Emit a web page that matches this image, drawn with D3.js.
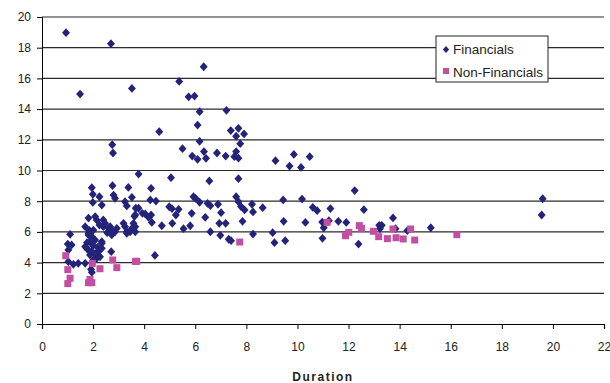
<!DOCTYPE html>
<html>
<head>
<meta charset="utf-8">
<script src="https://cdn.jsdelivr.net/npm/d3@7"></script>
<style>
  body { margin: 0; background: #fff; }
  svg { font-family: "Liberation Sans", Arial, sans-serif; }
</style>
</head>
<body>
<svg id="chart" width="610" height="383"></svg>
<script>
// duration, yield pairs
let financials = [
  [0.94,18.98],[2.7,18.26],[1.49,14.98],[3.52,15.35],[5.37,15.8],[5.74,14.8],[6.33,16.76],[5.97,14.85],
  [6.17,13.83],[7.22,13.92],[4.59,12.53],[6.09,12.96],[7.39,12.6],[7.69,12.75],[7.6,12.23],[7.91,12.38],
  [7.76,11.75],[6.17,11.9],[5.5,11.42],[5.88,10.94],[6.09,10.73],[6.34,11.23],[6.42,10.79],[6.85,11.14],
  [7.19,10.94],[7.6,11.23],[7.53,10.9],[7.69,10.8],[9.14,10.64],[9.86,11.05],[9.69,10.29],[10.14,10.2],
  [10.48,10.9],[2.75,11.68],[2.78,11.14],[3.78,9.77],[5.05,9.53],[6.55,9.32],[7.69,9.47],
  [4.27,8.84],[4.24,8.08],[4.46,8.01],[5.93,8.29],[6.01,8.19],[6.17,7.93],[6.48,7.86],[6.59,7.71],
  [6.89,7.8],[7.6,8.29],[7.69,7.97],[7.79,7.65],[7.93,7.43],[8.22,7.8],[8.26,7.3],[8.64,7.58],
  [9.44,8.08],[10.18,8.14],[4.98,7.64],[5.09,7.51],[5.35,7.47],[5.24,7.1],[4.27,7.1],[4.3,6.62],
  [4.69,6.4],[5.1,6.56],[5.54,6.21],[5.8,6.4],[5.86,7.21],[6.39,6.95],[7.01,7.25],[6.94,6.56],
  [7.19,6.56],[7.85,6.69],[9.46,6.69],[10.31,6.62],[6.59,6.01],[6.98,5.78],[7.31,5.52],[7.4,5.43],
  [8.26,5.86],[9.03,5.95],[9.1,5.3],[9.52,5.43],[4.42,4.47],
  [12.24,8.69],[10.6,7.6],[10.77,7.38],[11.29,7.52],[12.6,7.45],[10.97,6.64],[11.23,6.73],[11.6,6.69],
  [11.91,6.62],[11.03,6.27],[13.74,6.91],[13.2,6.43],[13.3,6.43],[13.23,6.21],[13.84,6.21],[14.3,6.08],
  [15.22,6.27],[10.98,5.58],[12.39,5.21],[19.6,8.16],[19.56,7.1],
  [1.95,8.88],[2.76,9.01],[3.38,8.9],[1.99,8.45],[2.25,8.29],[2.8,8.4],[2.86,8.19],[3.52,8.25],
  [1.99,7.92],[2.34,7.75],[3.25,7.97],[3.32,7.69],[3.67,7.54],[3.65,7.1],[3.93,7.21],[3.78,7.54],
  [3.62,7.02],[4.04,7.17],[4.17,6.95],
  [1.82,6.9],[2.08,7.0],[2.14,6.78],[2.4,6.78],[2.47,6.56],[2.67,6.34],[2.93,6.23],[3.19,6.56],
  [3.32,6.01],[3.58,6.56],[3.65,6.34],[1.69,6.34],[1.82,5.91],[1.95,5.69],[2.01,6.12],[2.4,6.34],
  [2.6,6.23],[2.73,6.12],[3.25,6.34],[3.52,6.23],[3.32,5.91],[3.65,6.01],[2.86,6.01],[3.45,6.01],
  [1.1,5.84],[1.01,5.21],[1.16,5.15],[1.03,4.82],[1.03,4.06],[1.23,3.89],[1.42,3.95],[1.69,3.95],
  [1.92,3.56],[1.95,3.37],[1.69,5.04],[1.75,4.93],[1.82,5.8],[1.88,5.36],[2.08,5.47],[2.34,5.36],
  [2.34,4.93],[2.21,4.71],[2.27,4.38],[2.14,4.28],[2.08,4.6],[1.95,4.71],[1.88,4.5],[2.01,4.17],
  [2.73,5.8],[2.71,4.71],[1.82,4.82],[2.34,5.26],[1.76,5.3],[2.0,5.1],[2.18,5.0],[1.85,6.1],
  [2.25,6.45],[2.55,5.95]
];

let nonFinancials = [
  [0.93,4.45],[1.01,3.54],[1.1,2.98],[1.01,2.63],[1.97,3.95],[1.88,2.9],[1.82,2.69],[1.95,2.69],
  [2.27,3.6],[2.77,4.17],[2.93,3.67],[3.66,4.08],[3.71,4.08],[7.74,5.34],[11.16,6.62],[12.42,6.41],
  [12.51,6.23],[11.88,5.75],[12.01,5.97],[12.97,6.04],[13.18,5.69],[13.52,5.56],[13.74,6.19],
  [13.86,5.62],[14.14,5.54],[14.43,6.19],[14.59,5.47],[16.24,5.82]
];

let xTicks = [0, 2, 4, 6, 8, 10, 12, 14, 16, 18, 20, 22];
let yTicks = [0, 2, 4, 6, 8, 10, 12, 14, 16, 18, 20];
let seriesNames = ["Financials", "Non-Financials"];

let svg = d3.select("#chart");

let padLeft = 42, padRight = 604, padTop = 17, padBottom = 324;

let x = d3.scaleLinear().domain([0, 22]).range([padLeft, padRight]);
let y = d3.scaleLinear().domain([0, 20]).range([padBottom, padTop]);

let navy = "#23237a";
let pink = "#c24fa2";

// diamond marker as a rotated square, a bit wider than d3's own
function diamondPath(r){
  return "M0," + (-r) + "L" + (r * 0.9) + ",0L0," + r + "L" + (-r * 0.9) + ",0Z";
}

// gridlines
svg.append("g")
  .selectAll("line")
  .data(yTicks.filter(d => d > 0))
  .enter()
  .append("line")
  .attr("x1", padLeft)
  .attr("x2", padRight)
  .attr("y1", d => y(d))
  .attr("y2", d => y(d))
  .attr("stroke", "#2b2b2b")
  .attr("stroke-width", 1.2);

// y axis
let yAxis = d3.axisLeft(y).tickValues(yTicks).tickSize(5).tickPadding(6);
let gy = svg.append("g")
  .attr("transform", "translate(" + padLeft + ",0)")
  .call(yAxis);
gy.select(".domain").attr("stroke", "#000");
gy.selectAll("line").attr("stroke", "#000");
gy.selectAll("text").attr("font-size", "12px").attr("fill", "#222")
  .attr("font-family", "Liberation Sans, Arial, sans-serif");

// x axis
let xAxis = d3.axisBottom(x).tickValues(xTicks).tickSize(5).tickPadding(13);
let gx = svg.append("g")
  .attr("transform", "translate(0," + padBottom + ")")
  .call(xAxis);
gx.select(".domain").attr("stroke", "#000").attr("stroke-width", 1.2);
gx.selectAll("line").attr("stroke", "#000");
gx.selectAll("text").attr("font-size", "12px").attr("fill", "#222")
  .attr("font-family", "Liberation Sans, Arial, sans-serif");

// points
svg.append("g")
  .selectAll("path")
  .data(financials)
  .enter()
  .append("path")
  .attr("d", diamondPath(4.4))
  .attr("transform", d => "translate(" + x(d[0]) + "," + y(d[1]) + ")")
  .attr("fill", navy);

svg.append("g")
  .selectAll("rect")
  .data(nonFinancials)
  .enter()
  .append("rect")
  .attr("x", d => x(d[0]) - 3.5)
  .attr("y", d => y(d[1]) - 3.5)
  .attr("width", 7)
  .attr("height", 7)
  .attr("fill", pink);

// x title
svg.append("text")
  .attr("x", (padLeft + padRight) / 2)
  .attr("y", 381)
  .attr("text-anchor", "middle")
  .attr("font-size", "12px")
  .attr("font-weight", "bold")
  .attr("letter-spacing", "1.5px")
  .attr("fill", "#222")
  .text("Duration");

// legend
let legend = svg.append("g").attr("transform", "translate(436,36)");
legend.append("rect")
  .attr("width", 112)
  .attr("height", 46)
  .attr("fill", "#fff")
  .attr("stroke", "#222")
  .attr("stroke-width", 1);

legend.append("path")
  .attr("d", diamondPath(3.5))
  .attr("transform", "translate(10,13.5)")
  .attr("fill", navy);
legend.append("rect")
  .attr("x", 7).attr("y", 32)
  .attr("width", 6).attr("height", 6)
  .attr("fill", pink);

legend.selectAll("text")
  .data(seriesNames)
  .enter()
  .append("text")
  .attr("x", 17)
  .attr("y", (d, i) => 18 + i * 22.5)
  .attr("font-size", "13.5px")
  .attr("fill", "#222")
  .text(d => d);
</script>
</body>
</html>
